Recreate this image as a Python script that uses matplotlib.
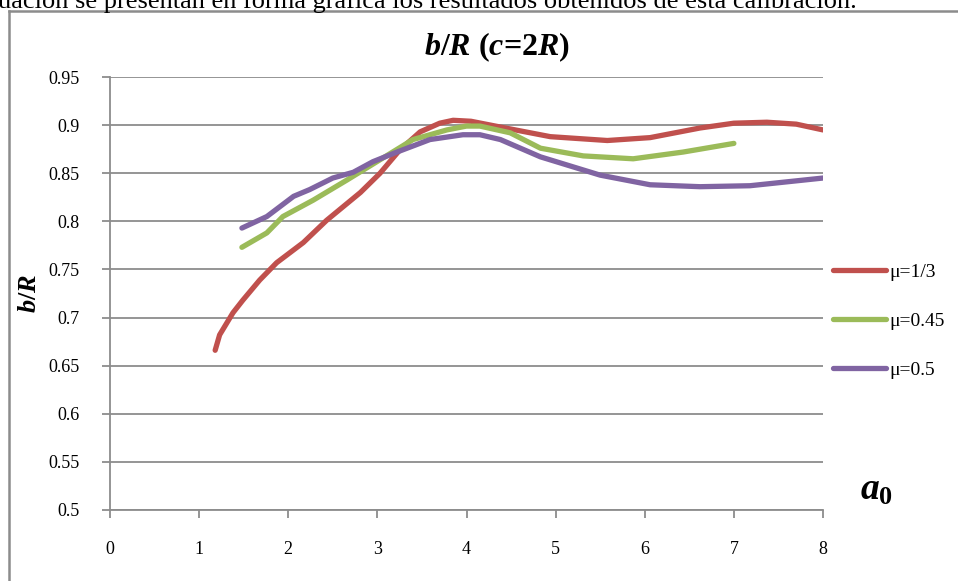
import matplotlib
matplotlib.use("Agg")
import matplotlib.pyplot as plt
from matplotlib.lines import Line2D
import numpy as np

plt.rcParams['font.family'] = ['Liberation Serif', 'DejaVu Serif']
plt.rcParams['mathtext.fontset'] = 'custom'
plt.rcParams['mathtext.it'] = 'Liberation Serif:italic:bold'
plt.rcParams['mathtext.rm'] = 'Liberation Serif:bold'

# traced values
x_13 = [1.18, 1.23, 1.38, 1.49, 1.68, 1.87, 2.17, 2.43, 2.81, 3.03, 3.25, 3.48,
        3.70, 3.85, 4.05, 4.38, 4.94, 5.58, 6.06, 6.62, 7.0, 7.37, 7.7, 8.0]
y_13 = [0.666, 0.682, 0.705, 0.718, 0.739, 0.757, 0.778, 0.801, 0.830, 0.850, 0.874, 0.893,
        0.902, 0.905, 0.904, 0.898, 0.888, 0.884, 0.887, 0.897, 0.902, 0.903, 0.901, 0.895]

x_045 = [1.48, 1.76, 1.94, 2.28, 2.66, 3.03, 3.40, 3.78, 4.0, 4.15, 4.49, 4.83,
         5.31, 5.87, 6.43, 7.0]
y_045 = [0.773, 0.788, 0.805, 0.822, 0.843, 0.864, 0.885, 0.895, 0.899, 0.899, 0.892, 0.876,
         0.868, 0.865, 0.872, 0.881]

x_05 = [1.48, 1.76, 2.06, 2.24, 2.50, 2.73, 2.95, 3.22, 3.59, 3.96, 4.15, 4.38, 4.83,
        5.50, 6.06, 6.62, 7.18, 8.0]
y_05 = [0.793, 0.805, 0.826, 0.833, 0.845, 0.851, 0.862, 0.872, 0.885, 0.890, 0.890, 0.885, 0.867,
        0.848, 0.838, 0.836, 0.837, 0.845]

xticks = [0, 1, 2, 3, 4, 5, 6, 7, 8]
yticks = [0.5, 0.55, 0.6, 0.65, 0.7, 0.75, 0.8, 0.85, 0.9, 0.95]
ytick_labels = ['0.5', '0.55', '0.6', '0.65', '0.7', '0.75', '0.8', '0.85', '0.9', '0.95']

W, H = 958, 581
fig = plt.figure(figsize=(W / 100.0, H / 100.0), dpi=100)
axes = fig.add_axes([110.0 / W, 1 - 510.0 / H, (823 - 110.0) / W, (510 - 77.0) / H])

lww = 3.8
axes.plot(x_13, y_13, color='#C0504D', lw=lww, solid_capstyle='round', label=u'\u03bc=1/3')
axes.plot(x_045, y_045, color='#9BBB59', lw=lww, solid_capstyle='round', label=u'\u03bc=0.45')
axes.plot(x_05, y_05, color='#8064A2', lw=lww, solid_capstyle='round', label=u'\u03bc=0.5')

axes.set_xlim(0, 8)
axes.set_ylim(0.5, 0.95)
axes.set_xticks(xticks)
axes.set_yticks(yticks)
axes.set_yticklabels(ytick_labels)
axes.grid(axis='y', color='#8c8c8c', lw=1.3)
axes.set_axisbelow(True)
for s in ['top', 'right']:
    axes.spines[s].set_visible(False)
for s in ['left', 'bottom']:
    axes.spines[s].set_color('#8c8c8c')
    axes.spines[s].set_linewidth(1.3)
axes.tick_params(axis='x', direction='out', length=6, width=1.3, color='#8c8c8c',
                 labelsize=13, pad=16)
axes.tick_params(axis='y', direction='out', length=6, width=1.3, color='#8c8c8c',
                 labelsize=13, pad=16)

fig.text(497.0 / W, 1 - 47.0 / H, r'$b$/$R$ ($c$=2$R$)', fontsize=23, fontweight='bold',
         ha='center', va='center')
fig.text(30.0 / W, 1 - 293.0 / H, r'$b$/$R$', rotation=90, fontsize=19, fontweight='bold',
         ha='center', va='center')
fig.text(860.0 / W, 1 - 490.0 / H, r'$a_0$', fontsize=27, ha='left', va='center')

axes.legend(loc='center left', bbox_to_anchor=(0.99, 0.436), frameon=False, fontsize=14,
            handlelength=2.7, handletextpad=0.2, labelspacing=1.6)

# page text cut at the top
fig.text(-2.0 / W, 1 - 8.0 / H,
         u'uación se presentan en forma gráfica los resultados obtenidos de esta calibración.',
         fontsize=19, ha='left', va='baseline')

# chart frame
fig.add_artist(Line2D([9.0 / W, 9.0 / W], [0, 1 - 11.0 / H], color='#8c8c8c', lw=1.8))
fig.add_artist(Line2D([9.0 / W, 1.0], [1 - 11.0 / H, 1 - 11.0 / H], color='#8c8c8c', lw=1.8))

plt.savefig('out.png', dpi=100)
